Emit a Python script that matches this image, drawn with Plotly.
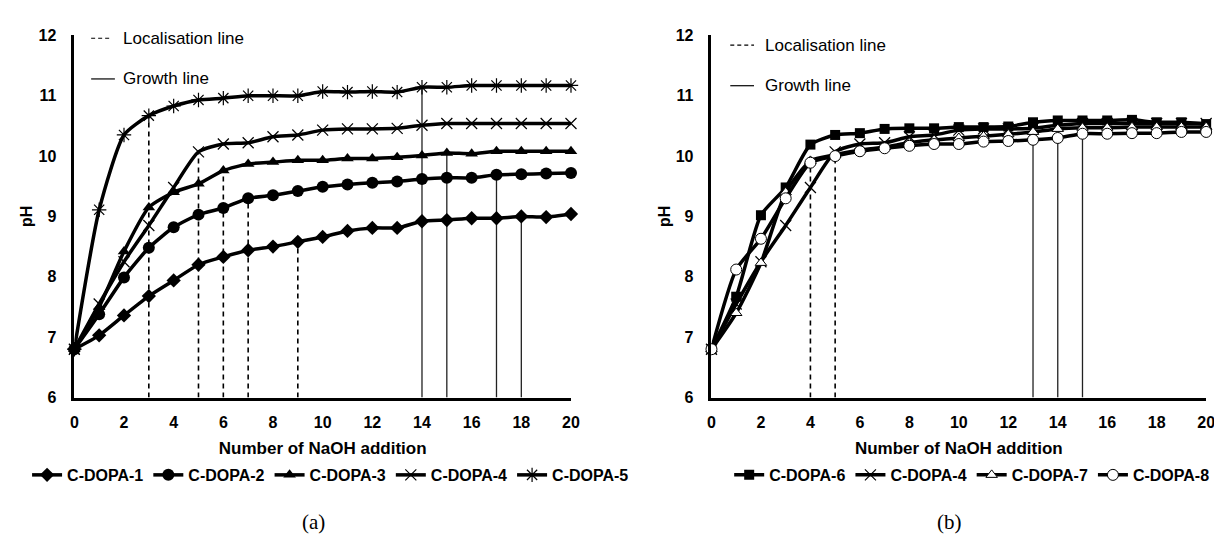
import plotly.graph_objects as go

W, H = 1222, 536

# ---------------- data ----------------
naoh = list(range(21))
x_ticks = list(range(0, 21, 2))
y_ticks = [6, 7, 8, 9, 10, 11, 12]

cdopa1 = [6.80, 7.03, 7.36, 7.68, 7.94, 8.20, 8.33, 8.44, 8.50, 8.58, 8.66, 8.76, 8.81, 8.81, 8.92, 8.94, 8.97, 8.97, 9.00, 8.99, 9.04]
cdopa2 = [6.80, 7.38, 7.99, 8.48, 8.82, 9.03, 9.14, 9.30, 9.35, 9.42, 9.49, 9.53, 9.56, 9.58, 9.62, 9.64, 9.64, 9.69, 9.70, 9.71, 9.72]
cdopa3 = [6.80, 7.50, 8.42, 9.15, 9.40, 9.54, 9.76, 9.87, 9.90, 9.93, 9.93, 9.96, 9.96, 9.98, 10.01, 10.05, 10.04, 10.08, 10.08, 10.08, 10.08]
cdopa4 = [6.80, 7.55, 8.25, 8.85, 9.48, 10.07, 10.20, 10.22, 10.32, 10.35, 10.43, 10.45, 10.45, 10.46, 10.51, 10.54, 10.54, 10.54, 10.54, 10.54, 10.54]
cdopa5 = [6.80, 9.11, 10.35, 10.67, 10.83, 10.93, 10.96, 11.00, 11.00, 11.00, 11.07, 11.06, 11.07, 11.06, 11.14, 11.14, 11.17, 11.17, 11.17, 11.17, 11.17]
cdopa6 = [6.80, 7.67, 9.02, 9.48, 10.19, 10.35, 10.38, 10.45, 10.46, 10.46, 10.48, 10.48, 10.49, 10.56, 10.59, 10.59, 10.59, 10.60, 10.56, 10.56, 10.53]
cdopa7 = [6.80, 7.40, 8.23, 9.40, 9.92, 10.02, 10.10, 10.15, 10.22, 10.27, 10.30, 10.33, 10.36, 10.40, 10.45, 10.47, 10.47, 10.48, 10.48, 10.48, 10.48]
cdopa8 = [6.80, 8.12, 8.63, 9.30, 9.89, 10.00, 10.08, 10.13, 10.17, 10.20, 10.20, 10.24, 10.25, 10.27, 10.30, 10.37, 10.37, 10.38, 10.38, 10.40, 10.40]

series = {
    "C-DOPA-1": cdopa1, "C-DOPA-2": cdopa2, "C-DOPA-3": cdopa3, "C-DOPA-4": cdopa4,
    "C-DOPA-5": cdopa5, "C-DOPA-6": cdopa6, "C-DOPA-7": cdopa7, "C-DOPA-8": cdopa8,
}
panel_a = ["C-DOPA-1", "C-DOPA-2", "C-DOPA-3", "C-DOPA-4", "C-DOPA-5"]
panel_b = ["C-DOPA-6", "C-DOPA-4", "C-DOPA-7", "C-DOPA-8"]

# localisation (dashed) and growth (solid) lines: (series, NaOH addition)
loc_a = [("C-DOPA-5", 3), ("C-DOPA-4", 5), ("C-DOPA-3", 6), ("C-DOPA-2", 7), ("C-DOPA-1", 9)]
growth_a = [("C-DOPA-5", 14), ("C-DOPA-3", 15), ("C-DOPA-2", 17), ("C-DOPA-1", 18)]
loc_b = [("C-DOPA-8", 4), ("C-DOPA-8", 5)]
growth_b = [("C-DOPA-8", 13), ("C-DOPA-8", 14), ("C-DOPA-8", 15)]

# ---------------- styles ----------------
BOLD = "Liberation Sans"
styles = {
    "C-DOPA-1": dict(symbol="diamond", size=11, color="black", line=dict(width=0)),
    "C-DOPA-2": dict(symbol="circle", size=12, color="black", line=dict(width=0)),
    "C-DOPA-3": dict(symbol="triangle-up", size=11, color="black", line=dict(width=0)),
    "C-DOPA-4": dict(symbol="x-thin-open", size=11, color="black", line=dict(width=1.2, color="black")),
    "C-DOPA-5": dict(symbol="asterisk-open", size=12, color="black", line=dict(width=1.2, color="black")),
    "C-DOPA-6": dict(symbol="square", size=10, color="black", line=dict(width=0)),
    "C-DOPA-7": dict(symbol="triangle-up", size=10, color="white", line=dict(width=1, color="black")),
    "C-DOPA-8": dict(symbol="circle", size=11, color="white", line=dict(width=1, color="black")),
}

fig = go.Figure()


def add_panel(names, xa, ya, legend, locs, growths):
    for nm, xv in locs:
        fig.add_trace(go.Scatter(x=[xv, xv], y=[6, series[nm][naoh.index(xv)]], mode="lines",
                                 line=dict(color="black", width=1.6, dash="5px,4px"),
                                 xaxis=xa, yaxis=ya, showlegend=False, hoverinfo="skip"))
    for nm, xv in growths:
        fig.add_trace(go.Scatter(x=[xv, xv], y=[6, series[nm][naoh.index(xv)]], mode="lines",
                                 line=dict(color="#222222", width=1.3),
                                 xaxis=xa, yaxis=ya, showlegend=False, hoverinfo="skip"))
    for nm in names:
        fig.add_trace(go.Scatter(x=naoh, y=series[nm], name=nm, mode="lines+markers",
                                 line=dict(color="black", width=3.5, shape="spline", smoothing=0.6),
                                 marker=styles[nm], xaxis=xa, yaxis=ya, legend=legend,
                                 cliponaxis=False))


add_panel(panel_a, "x", "y", "legend", loc_a, growth_a)
add_panel(panel_b, "x2", "y2", "legend2", loc_b, growth_b)


def px_x(p):
    return p / W


def px_y(p):
    return 1 - p / H


ydom = [px_y(394), px_y(20)]
axis_font = dict(family=BOLD, size=16, color="black", weight="bold")
common_x = dict(range=[0, 20], tickvals=x_ticks, showgrid=False, zeroline=False, showline=True,
                linecolor="black", linewidth=2.5, ticks="", tickfont=axis_font,
                ticklabelstandoff=9,
                title=dict(text="<b>Number of NaOH addition</b>", font=dict(family=BOLD, size=17, color="black"),
                           standoff=12))
common_y = dict(range=[6, 12], tickvals=y_ticks, showgrid=False, zeroline=False, showline=True,
                linecolor="black", linewidth=2.5, ticks="", tickfont=axis_font,
                ticklabelstandoff=12,
                title=dict(text="<b>pH</b>", font=dict(family=BOLD, size=16, color="black"), standoff=2))

leg_common = dict(orientation="h", font=dict(family=BOLD, size=16, color="black", weight="bold"),
                  bgcolor="rgba(0,0,0,0)", itemwidth=30, tracegroupgap=0,
                  yanchor="middle", xanchor="center", itemclick=False)

fig.update_layout(
    width=W, height=H, margin=dict(l=0, r=0, t=0, b=0),
    paper_bgcolor="white", plot_bgcolor="white",
    xaxis=dict(domain=[px_x(63), px_x(565)], anchor="y", **common_x),
    yaxis=dict(domain=ydom, anchor="x", **common_y),
    xaxis2=dict(domain=[px_x(707), px_x(1207)], anchor="y2", **common_x),
    yaxis2=dict(domain=ydom, anchor="x2", **common_y),
    legend=dict(x=px_x(322), y=px_y(474), **leg_common),
    legend2=dict(x=px_x(970), y=px_y(474), **leg_common),
    showlegend=True,
)

# key for localisation / growth lines
ann_font = dict(family="Liberation Sans", size=17, color="black")
keys = [
    # (seg x0, seg x1, text x, y, dash, text)
    (80, 100, 110, 23, "dash", "Localisation line"),
    (80, 104, 110, 65, "solid", "Growth line"),
    (726, 750, 759, 30, "dash", "Localisation line"),
    (726, 750, 759, 72, "solid", "Growth line"),
]
for x0, x1, tx, yy, dsh, txt in keys:
    fig.add_shape(type="line", xref="paper", yref="paper", x0=px_x(x0), x1=px_x(x1),
                  y0=px_y(yy), y1=px_y(yy), line=dict(color="black", width=1.2,
                                                      dash="4px,3px" if dsh == "dash" else "solid"))
    fig.add_annotation(xref="paper", yref="paper", x=px_x(tx), y=px_y(yy), text=txt,
                       showarrow=False, xanchor="left", yanchor="middle", font=ann_font)

for lbl, cx in [("(a)", 305), ("(b)", 948)]:
    fig.add_annotation(xref="paper", yref="paper", x=px_x(cx), y=px_y(523), text=lbl,
                       showarrow=False, xanchor="center", yanchor="middle",
                       font=dict(family="Liberation Serif", size=21, color="black"))

fig.write_html("out.html")
